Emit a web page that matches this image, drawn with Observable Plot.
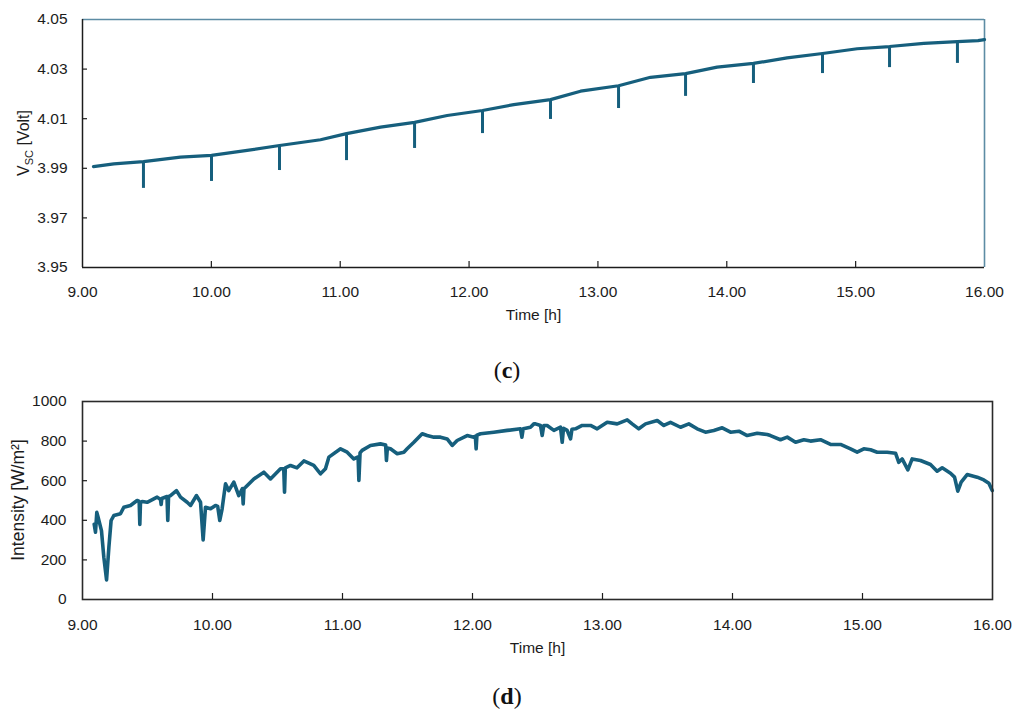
<!DOCTYPE html>
<html><head><meta charset="utf-8">
<script src="https://cdn.jsdelivr.net/npm/d3@7"></script>
<script src="https://cdn.jsdelivr.net/npm/@observablehq/plot@0.6"></script>
<style>
body{margin:0;background:#fff;}
#wrap{position:relative;width:1025px;height:713px;overflow:hidden;background:#fff;}
.panel{position:absolute;left:0;}
.cap{position:absolute;font-family:"Liberation Serif","DejaVu Serif",serif;font-size:24px;line-height:24px;color:#111;transform:translateX(-50%);white-space:nowrap;}
</style></head><body><div id="wrap"></div>
<script>
// ---- shared ticks ----
const xTickValues = [9, 10, 11, 12, 13, 14, 15, 16];
const vTickValues = [3.95, 3.97, 3.99, 4.01, 4.03, 4.05];
const iTickValues = [0, 200, 400, 600, 800, 1000];

// ---- panel (c): supercapacitor voltage ----
const vTime  = [9.085, 9.243, 9.473, 9.76, 10.001, 10.278, 10.529, 10.847, 11.049, 11.313, 11.577, 11.83, 12.104, 12.347, 12.632, 12.865, 13.160, 13.408, 13.680, 13.925, 14.207, 14.468, 14.743, 15.012, 15.263, 15.529, 15.790, 15.95, 16.0];
const vValue = [3.9907, 3.9918, 3.9927, 3.9945, 3.9952, 3.9972, 3.9992, 4.0015, 4.0040, 4.0066, 4.0085, 4.0113, 4.0133, 4.0157, 4.0177, 4.0211, 4.0233, 4.0267, 4.0282, 4.0308, 4.0323, 4.0345, 4.0363, 4.0382, 4.0391, 4.0404, 4.0411, 4.0415, 4.0419];
const spikeTime = [9.473, 10.001, 10.529, 11.049, 11.577, 12.104, 12.632, 13.160, 13.680, 14.207, 14.743, 15.263, 15.790];
const spikeTop  = [3.9927, 3.9952, 3.9992, 4.0040, 4.0085, 4.0133, 4.0177, 4.0233, 4.0282, 4.0323, 4.0363, 4.0391, 4.0411];
const spikeLow  = [3.9819, 3.9847, 3.9891, 3.9931, 3.9980, 4.0040, 4.0097, 4.0141, 4.0190, 4.0242, 4.0282, 4.0306, 4.0323];

// ---- panel (d): irradiance ----
const iTime = [9.090,9.100,9.110,9.120,9.146,9.164,9.185,9.203,9.220,9.241,9.292,9.318,9.369,9.420,9.436,9.441,9.446,9.459,9.497,9.574,9.600,9.605,9.610,9.650,9.656,9.662,9.677,9.723,9.754,9.805,9.831,9.877,9.908,9.928,9.946,9.985,10.023,10.040,10.056,10.074,10.100,10.125,10.164,10.202,10.230,10.236,10.242,10.254,10.318,10.395,10.446,10.523,10.548,10.554,10.560,10.600,10.650,10.703,10.779,10.831,10.869,10.895,10.985,11.036,11.087,11.120,11.126,11.135,11.151,11.215,11.292,11.332,11.338,11.345,11.369,11.421,11.472,11.497,11.549,11.613,11.651,11.703,11.754,11.805,11.844,11.882,11.959,12.010,12.022,12.028,12.034,12.062,12.164,12.267,12.369,12.380,12.390,12.446,12.472,12.485,12.523,12.536,12.548,12.574,12.626,12.677,12.690,12.700,12.728,12.754,12.765,12.792,12.844,12.908,12.959,13.036,13.113,13.190,13.228,13.279,13.331,13.421,13.472,13.523,13.600,13.664,13.728,13.792,13.856,13.921,13.985,14.049,14.113,14.190,14.267,14.292,14.369,14.421,14.485,14.549,14.600,14.677,14.754,14.831,14.908,14.959,15.010,15.062,15.113,15.190,15.254,15.279,15.305,15.349,15.382,15.446,15.523,15.574,15.613,15.677,15.708,15.733,15.759,15.805,15.882,15.933,15.972,15.998];
const iValue = [380,340,440,416,348,214,99,264,399,424,433,466,475,500,495,379,490,495,491,517,505,480,510,520,399,520,525,550,517,491,475,525,491,301,466,458,475,470,399,458,584,550,593,525,560,483,560,567,609,643,609,660,660,542,665,677,665,700,677,635,660,719,761,744,710,720,601,740,753,778,786,780,702,765,761,736,744,761,794,837,828,820,820,811,778,803,828,820,825,761,830,837,845,854,862,820,862,870,887,887,879,828,879,879,854,870,794,865,854,811,860,862,879,879,862,895,887,907,887,862,887,904,879,895,870,887,862,845,854,867,845,850,828,840,833,828,807,820,794,807,800,807,783,783,761,744,761,756,744,744,739,693,710,655,710,702,682,648,665,638,618,547,593,631,618,604,587,550];

const lineColor = "#165f7d";
const ink = "#1c1c1c";
const fontStack = "'Liberation Sans', Arial, sans-serif";
const f2 = d3.format(".2f");

const voltData = vTime.map((t, i) => ({t, v: vValue[i]}));
const spikeData = spikeTime.map((t, i) => ({t, top: spikeTop[i], low: spikeLow[i]}));
const irrData = iTime.map((t, i) => ({t, v: iValue[i]}));

const wrap = document.getElementById("wrap");

// Panel c
const cW = 1025, cH = 345, cMT = 19, cMB = 78, cML = 82, cMR = 41;
const cIW = cW - cML - cMR, cIH = cH - cMT - cMB;
const plotC = Plot.plot({
  width: cW, height: cH, marginTop: cMT, marginBottom: cMB, marginLeft: cML, marginRight: cMR,
  style: {fontFamily: fontStack, fontSize: "15.5px", color: ink, background: "transparent", overflow: "visible"},
  x: {domain: [9, 16]},
  y: {domain: [3.95, 4.05]},
  marks: [
    Plot.ruleY([4.05], {stroke: "#5d8ca4", strokeWidth: 1.6}),
    Plot.ruleX([16], {stroke: "#5d8ca4", strokeWidth: 1.6}),
    Plot.line(voltData, {x: "t", y: "v", stroke: lineColor, strokeWidth: 3.2, strokeLinejoin: "round"}),
    Plot.ruleX(spikeData, {x: "t", y1: "top", y2: "low", stroke: lineColor, strokeWidth: 3}),
    Plot.ruleY([3.95], {stroke: ink, strokeWidth: 1.5}),
    Plot.ruleX([9], {stroke: ink, strokeWidth: 1.5}),
    Plot.tickX(xTickValues.slice(1, -1), {x: d => d, insetTop: cIH - 6, stroke: ink, strokeWidth: 1.2}),
    Plot.tickY(vTickValues.slice(1, -1), {y: d => d, insetRight: cIW - 5, stroke: ink, strokeWidth: 1.2}),
    Plot.axisX({ticks: xTickValues, tickFormat: f2, tickSize: 0, tickPadding: 18, label: null}),
    Plot.axisY({ticks: vTickValues, tickFormat: f2, tickSize: 0, tickPadding: 15, label: null}),
    Plot.text(["Time [h]"], {text: d => d, frameAnchor: "bottom", dy: 52, fontSize: 15.5, fill: ink})
  ]
});
plotC.classList.add("panel");
plotC.style.top = "0px";
wrap.appendChild(plotC);
{
  const t = d3.select(plotC).append("text")
    .attr("transform", `translate(29,${cMT + cIH / 2}) rotate(-90)`)
    .attr("text-anchor", "middle")
    .attr("fill", ink)
    .style("font-family", fontStack)
    .style("font-size", "16px");
  t.append("tspan").text("V");
  t.append("tspan").attr("font-size", "11px").attr("dy", 3.5).text("SC");
  t.append("tspan").attr("dy", -3.5).text(" [Volt]");
}

// Panel d
const dTop = 380;
const dW = 1025, dH = 290, dMT = 21, dMB = 71, dML = 82, dMR = 33;
const dIW = dW - dML - dMR, dIH = dH - dMT - dMB;
const plotD = Plot.plot({
  width: dW, height: dH, marginTop: dMT, marginBottom: dMB, marginLeft: dML, marginRight: dMR,
  style: {fontFamily: fontStack, fontSize: "15.5px", color: ink, background: "transparent", overflow: "visible"},
  x: {domain: [9, 16]},
  y: {domain: [0, 1000]},
  marks: [
    Plot.line(irrData, {x: "t", y: "v", stroke: lineColor, strokeWidth: 3.6, strokeLinejoin: "round"}),
    Plot.frame({stroke: "#2a2a2a", strokeWidth: 1.6}),
    Plot.tickX(xTickValues.slice(1, -1), {x: d => d, insetTop: dIH - 6, stroke: ink, strokeWidth: 1.2}),
    Plot.tickY(iTickValues.slice(1, -1), {y: d => d, insetRight: dIW - 5, stroke: ink, strokeWidth: 1.2}),
    Plot.axisX({ticks: xTickValues, tickFormat: f2, tickSize: 0, tickPadding: 19, label: null}),
    Plot.axisY({ticks: iTickValues, tickFormat: d => String(d), tickSize: 0, tickPadding: 16, label: null}),
    Plot.text(["Time [h]"], {text: d => d, frameAnchor: "bottom", dy: 53, fontSize: 15.5, fill: ink})
  ]
});
plotD.classList.add("panel");
plotD.style.top = dTop + "px";
wrap.appendChild(plotD);
d3.select(plotD).append("text")
  .attr("transform", `translate(24,${dMT + dIH / 2}) rotate(-90)`)
  .attr("text-anchor", "middle")
  .attr("fill", ink)
  .style("font-family", fontStack)
  .style("font-size", "17.5px")
  .text("Intensity [W/m²]");

// captions
function caption(letter, cx, cy) {
  const d = document.createElement("div");
  d.className = "cap";
  d.style.left = cx + "px";
  d.style.top = (cy - 12) + "px";
  d.innerHTML = "(<b>" + letter + "</b>)";
  wrap.appendChild(d);
}
caption("c", 507, 370);
caption("d", 507, 696);
</script></body></html>
